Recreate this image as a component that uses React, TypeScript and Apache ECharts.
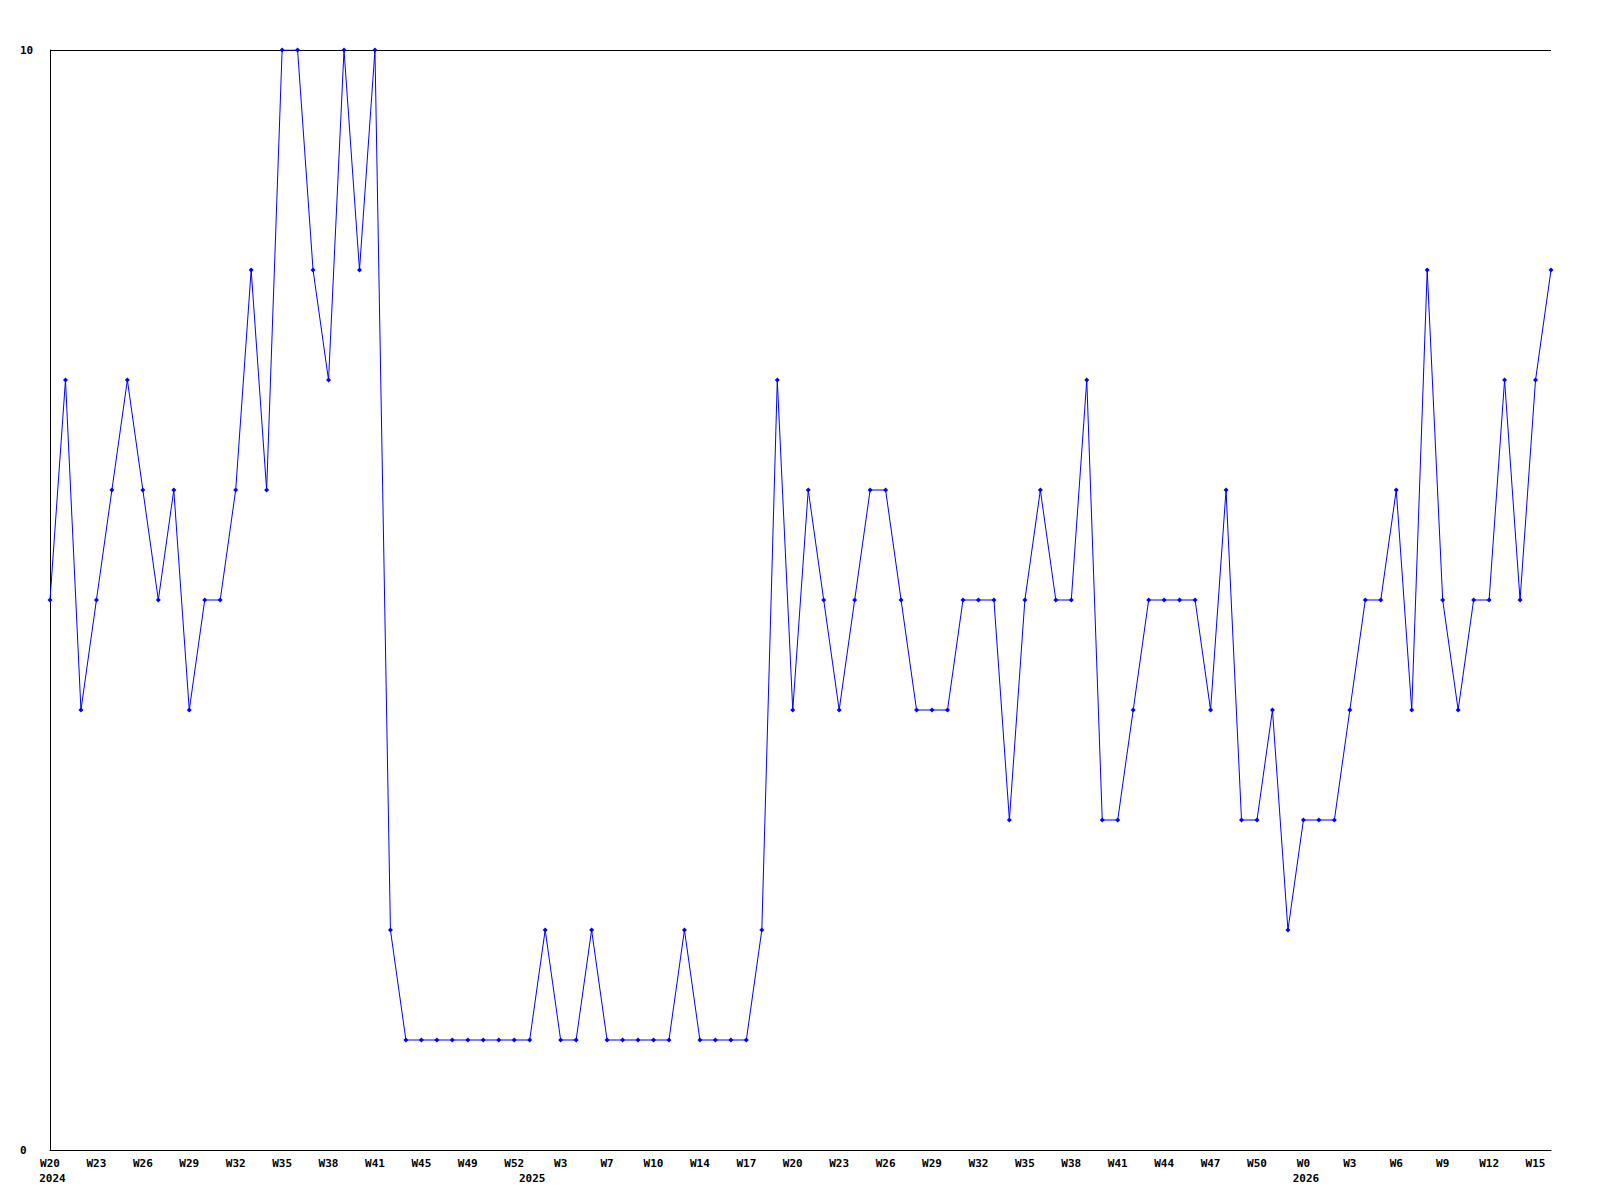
import React, { useEffect, useRef } from "react";
import * as echarts from "echarts";

const weekLabels: string[] = [
  "W20", "W21", "W22", "W23", "W24", "W25", "W26", "W27", "W28", "W29",
  "W30", "W31", "W32", "W33", "W34", "W35", "W36", "W37", "W38", "W39",
  "W40", "W41", "W42", "W44", "W45", "W46", "W48", "W49", "W50", "W51",
  "W52", "W1", "W2", "W3", "W5", "W6", "W7", "W8", "W9", "W10",
  "W12", "W13", "W14", "W15", "W16", "W17", "W18", "W19", "W20", "W21",
  "W22", "W23", "W24", "W25", "W26", "W27", "W28", "W29", "W30", "W31",
  "W32", "W33", "W34", "W35", "W36", "W37", "W38", "W39", "W40", "W41",
  "W42", "W43", "W44", "W45", "W46", "W47", "W48", "W49", "W50", "W51",
  "W52", "W0", "W1", "W2", "W3", "W4", "W5", "W6", "W7", "W8",
  "W9", "W10", "W11", "W12", "W13", "W14", "W15", "W16",
];

// year shown under the point where each year starts
const yearStarts: { index: number; year: string }[] = [
  { index: 0, year: "2024" },
  { index: 31, year: "2025" },
  { index: 81, year: "2026" },
];

const values: number[] = [
  5, 7, 4, 5, 6, 7, 6, 5, 6, 4,
  5, 5, 6, 8, 6, 10, 10, 8, 7, 10,
  8, 10, 2, 1, 1, 1, 1, 1, 1, 1,
  1, 1, 2, 1, 1, 2, 1, 1, 1, 1,
  1, 2, 1, 1, 1, 1, 2, 7, 4, 6,
  5, 4, 5, 6, 6, 5, 4, 4, 4, 5,
  5, 5, 3, 5, 6, 5, 5, 7, 3, 3,
  4, 5, 5, 5, 5, 4, 6, 3, 3, 4,
  2, 3, 3, 3, 4, 5, 5, 6, 4, 8,
  5, 4, 5, 5, 7, 5, 7, 8,
];

const yTicks: number[] = [0, 10];

export default function App() {
  const ref = useRef<HTMLDivElement>(null);
  useEffect(() => {
    if (!ref.current) return;
    const chart = echarts.init(ref.current, undefined, { renderer: "svg" });
    const font = {
      fontFamily: "DejaVu Sans Mono",
      fontWeight: "bold" as const,
      fontSize: 11,
      color: "#000",
    };
    const yearMap: Record<number, string> = {};
    yearStarts.forEach((y) => (yearMap[y.index] = y.year));
    chart.setOption({
      animation: false,
      backgroundColor: "#fff",
      grid: { left: 50, right: 49, top: 50, bottom: 50, containLabel: false },
      xAxis: [
        {
          type: "category",
          data: weekLabels,
          boundaryGap: false,
          axisLine: { show: true, lineStyle: { color: "#000", width: 1 } },
          axisTick: { show: false },
          splitLine: { show: false },
          axisLabel: {
            ...font,
            margin: 8,
            interval: (i: number) => i % 3 === 0,
          },
        },
        {
          type: "category",
          position: "bottom",
          offset: 15,
          data: weekLabels,
          boundaryGap: false,
          axisLine: { show: false },
          axisTick: { show: false },
          splitLine: { show: false },
          axisLabel: {
            ...font,
            margin: 8,
            interval: (i: number) => yearMap[i] !== undefined,
            formatter: (_v: string, i: number) => yearMap[i] || "",
            padding: [0, 0, 0, 5],
          },
        },
      ],
      yAxis: {
        type: "value",
        min: yTicks[0],
        max: yTicks[yTicks.length - 1],
        interval: 10,
        axisLine: { show: true, lineStyle: { color: "#000", width: 1 } },
        axisTick: { show: false },
        splitLine: { show: true, lineStyle: { color: "#000", width: 1 } },
        axisLabel: { ...font, margin: 30, align: "left" },
      },
      series: [
        {
          type: "line",
          data: values,
          xAxisIndex: 0,
          symbol: "diamond",
          symbolSize: 5,
          showSymbol: true,
          lineStyle: { color: "#0000ff", width: 1 },
          itemStyle: { color: "#0000ff" },
        },
      ],
    });
    return () => chart.dispose();
  }, []);
  return (
    <div
      ref={ref}
      style={{ position: "absolute", left: 0, top: 0, width: 1600, height: 1200 }}
    />
  );
}
